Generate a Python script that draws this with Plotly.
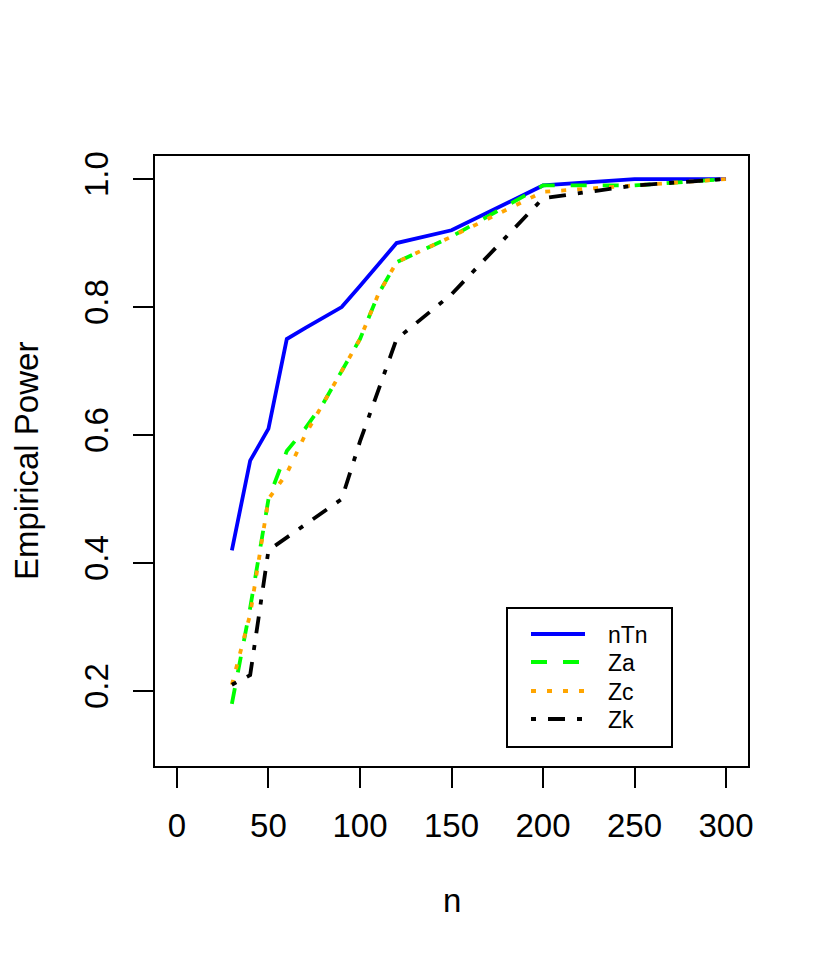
import plotly.graph_objects as go

# sample sizes and empirical power of each test
n = [30, 40, 50, 60, 70, 80, 90, 100, 110, 120, 150, 200, 250, 300]
nTn = [0.42, 0.56, 0.61, 0.75, 0.767, 0.783, 0.80, 0.833, 0.867, 0.90, 0.92, 0.99, 1.00, 1.00]
Za = [0.18, 0.33, 0.50, 0.575, 0.61, 0.65, 0.70, 0.75, 0.82, 0.87, 0.91, 0.99, 0.99, 1.00]
Zc = [0.21, 0.32, 0.50, 0.54, 0.60, 0.65, 0.70, 0.75, 0.82, 0.87, 0.91, 0.98, 0.99, 1.00]
Zk = [0.21, 0.225, 0.42, 0.44, 0.46, 0.48, 0.50, 0.59, 0.67, 0.75, 0.82, 0.97, 0.99, 1.00]

x_ticks = [0, 50, 100, 150, 200, 250, 300]
y_ticks = [0.2, 0.4, 0.6, 0.8, 1.0]

names = ["nTn", "Za", "Zc", "Zk"]
colors = ["#0000FF", "#00FF00", "#FFA500", "black"]
dashes = ["solid", "16px,16px", "5px,11px", "5px,12px,17px,12px"]
series = [nTn, Za, Zc, Zk]

font = "Liberation Sans, Arial, sans-serif"
lw = 3.8

fig = go.Figure()
for name, vals, col, dsh in zip(names, series, colors, dashes):
    fig.add_trace(go.Scatter(x=n, y=vals, name=name, mode="lines",
                             line=dict(color=col, width=lw, dash=dsh)))

axis_style = dict(showline=True, mirror=True, linecolor="black", linewidth=2,
                  ticks="outside", ticklen=20, tickwidth=2, tickcolor="black",
                  showgrid=False, zeroline=False,
                  tickfont=dict(family=font, size=33, color="black"))

# legend drawn by hand, R style (paper coords of the plot box)
def px(x):
    return (x - 155) / 593.0

def py(y):
    return (766 - y) / 610.0

shapes = [dict(type="rect", xref="paper", yref="paper",
               x0=px(507), x1=px(672), y0=py(747), y1=py(608),
               line=dict(color="black", width=2), fillcolor="white", layer="above")]
annotations = []
row_y = [634, 662, 691, 719]
for name, col, dsh, ry in zip(names, colors, dashes, row_y):
    shapes.append(dict(type="line", xref="paper", yref="paper",
                       x0=px(531), x1=px(585), y0=py(ry), y1=py(ry),
                       line=dict(color=col, width=lw, dash=dsh), layer="above"))
    annotations.append(dict(text=name, xref="paper", yref="paper",
                            x=px(606), y=py(ry + 1), xanchor="left", yanchor="middle",
                            showarrow=False,
                            font=dict(family=font, size=23, color="black")))

annotations += [
    dict(text="n", xref="paper", yref="paper", x=0.5, y=py(900),
         xanchor="center", yanchor="middle",
         showarrow=False, font=dict(family=font, size=33)),
    dict(text="Empirical Power", xref="paper", yref="paper", x=px(26), y=0.5,
         xanchor="center", yanchor="middle",
         textangle=-90, showarrow=False, font=dict(family=font, size=33)),
]

fig.update_layout(
    width=829, height=960,
    # page body adds 8px offset
    margin=dict(l=147, r=89, t=148, b=202),
    plot_bgcolor="white", paper_bgcolor="white",
    font=dict(family=font, color="black"),
    xaxis=dict(range=[-12, 312], tickvals=x_ticks, ticklabelstandoff=9, **axis_style),
    yaxis=dict(range=[0.083, 1.036], tickvals=y_ticks, tickformat=".1f",
               tickangle=-90, ticklabelstandoff=12, **axis_style),
    showlegend=False,
    shapes=shapes,
    annotations=annotations,
)

fig.write_html("out.html")
